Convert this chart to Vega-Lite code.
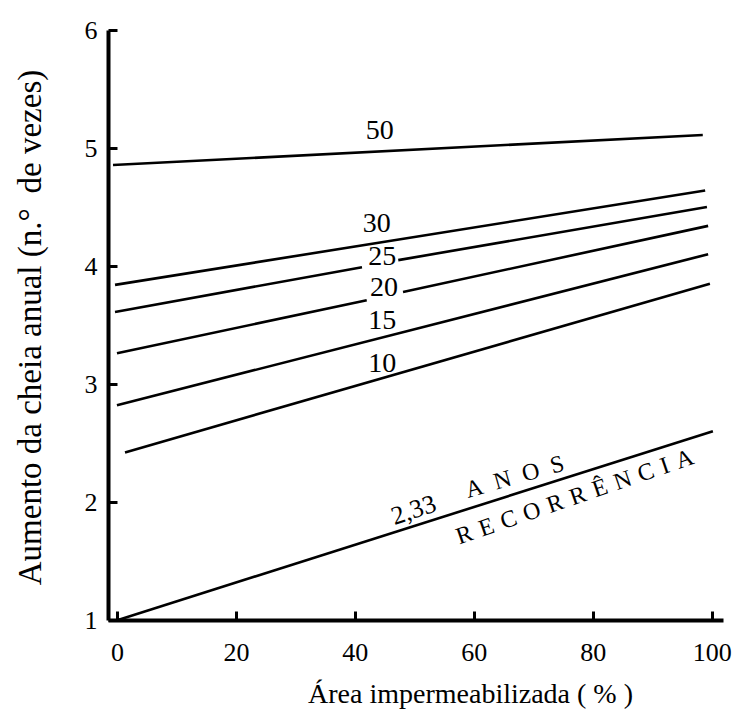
{
  "$schema": "https://vega.github.io/schema/vega-lite/v6.json",
  "width": 615,
  "height": 590,
  "autosize": {"type": "none"},
  "padding": {"left": 108, "top": 30, "right": 16, "bottom": 89},
  "background": "white",
  "config": {
    "view": {"stroke": null},
    "font": "Liberation Serif",
    "axis": {
      "grid": false,
      "domainColor": "black",
      "domainWidth": 4,
      "tickColor": "black",
      "tickWidth": 3,
      "tickSize": -9,
      "labelFont": "Liberation Serif",
      "labelFontSize": 26,
      "labelColor": "black",
      "labelFlush": false,
      "labelOverlap": false,
      "titleFont": "Liberation Serif",
      "titleFontWeight": "normal",
      "titleColor": "black"
    },
    "text": {"font": "Liberation Serif", "color": "black"}
  },
  "layer": [
    {
      "data": {
        "values": [
          {"curve": "50", "seg": "50", "x": -0.66, "y": 4.856},
          {"curve": "50", "seg": "50", "x": 98.5, "y": 5.11},
          {"curve": "30", "seg": "30", "x": -0.32, "y": 3.84},
          {"curve": "30", "seg": "30", "x": 98.9, "y": 4.64},
          {"curve": "25", "seg": "25a", "x": -0.32, "y": 3.61},
          {"curve": "25", "seg": "25a", "x": 41.2, "y": 3.99},
          {"curve": "25", "seg": "25b", "x": 47.3, "y": 4.05},
          {"curve": "25", "seg": "25b", "x": 99.2, "y": 4.5},
          {"curve": "20", "seg": "20a", "x": 0.01, "y": 3.26},
          {"curve": "20", "seg": "20a", "x": 42.0, "y": 3.71},
          {"curve": "20", "seg": "20b", "x": 48.1, "y": 3.78},
          {"curve": "20", "seg": "20b", "x": 99.4, "y": 4.34},
          {"curve": "15", "seg": "15", "x": 0.0, "y": 2.82},
          {"curve": "15", "seg": "15", "x": 99.4, "y": 4.1},
          {"curve": "10", "seg": "10", "x": 1.36, "y": 2.42},
          {"curve": "10", "seg": "10", "x": 99.7, "y": 3.85},
          {"curve": "2,33", "seg": "2,33", "x": 0.18, "y": 1.0},
          {"curve": "2,33", "seg": "2,33", "x": 100.2, "y": 2.6}
        ]
      },
      "mark": {"type": "line", "color": "black", "strokeWidth": 2.6},
      "encoding": {
        "x": {
          "field": "x",
          "type": "quantitative",
          "scale": {"domain": [-1.5, 101.9], "nice": false, "zero": false},
          "axis": {
            "values": [0, 20, 40, 60, 80, 100],
            "format": "d",
            "title": "Área impermeabilizada ( % )",
            "titleFontSize": 28,
            "titleX": 362,
            "titleY": 82,
            "titleBaseline": "alphabetic",
            "titleAlign": "center",
            "labelPadding": 28
          }
        },
        "y": {
          "field": "y",
          "type": "quantitative",
          "scale": {"domain": [1, 6], "nice": false, "zero": false},
          "axis": {
            "values": [1, 2, 3, 4, 5, 6],
            "format": "d",
            "title": "Aumento da cheia anual (n.° \u2009de vezes)",
            "titleFontSize": 33,
            "titleX": -68,
            "titleY": 297,
            "titleAngle": -90,
            "titleBaseline": "alphabetic",
            "titleAlign": "center",
            "labelPadding": 20
          }
        },
        "detail": {"field": "seg"}
      }
    },
    {
      "data": {
        "values": [
          {"label": "50", "x": 44.2, "y": 5.14},
          {"label": "30", "x": 43.7, "y": 4.36},
          {"label": "25", "x": 44.6, "y": 4.08},
          {"label": "20", "x": 44.9, "y": 3.81},
          {"label": "15", "x": 44.6, "y": 3.53},
          {"label": "10", "x": 44.6, "y": 3.17}
        ]
      },
      "mark": {"type": "text", "font": "Liberation Serif", "fontSize": 28, "align": "center", "baseline": "middle"},
      "encoding": {
        "x": {"field": "x", "type": "quantitative"},
        "y": {"field": "y", "type": "quantitative"},
        "text": {"field": "label"}
      }
    },
    {
      "data": {"values": [{"label": "2,33", "x": 49.9, "y": 1.93}]},
      "mark": {"type": "text", "font": "Liberation Serif", "fontSize": 26, "align": "center", "baseline": "middle", "angle": -18},
      "encoding": {
        "x": {"field": "x", "type": "quantitative"},
        "y": {"field": "y", "type": "quantitative"},
        "text": {"field": "label"}
      }
    },
    {
      "data": {"values": [{"label": "A\u2002N\u2002O\u2002S", "x": 66.9, "y": 2.21}]},
      "mark": {"type": "text", "font": "Liberation Serif", "fontSize": 24, "align": "center", "baseline": "middle", "angle": -16},
      "encoding": {
        "x": {"field": "x", "type": "quantitative"},
        "y": {"field": "y", "type": "quantitative"},
        "text": {"field": "label"}
      }
    },
    {
      "data": {"values": [{"label": "R\u2004E\u2004C\u2004O\u2004R\u2004R\u2004Ê\u2004N\u2004C\u2004I\u2004A", "x": 77.0, "y": 2.04}]},
      "mark": {"type": "text", "font": "Liberation Serif", "fontSize": 24, "align": "center", "baseline": "middle", "angle": -19},
      "encoding": {
        "x": {"field": "x", "type": "quantitative"},
        "y": {"field": "y", "type": "quantitative"},
        "text": {"field": "label"}
      }
    }
  ]
}
